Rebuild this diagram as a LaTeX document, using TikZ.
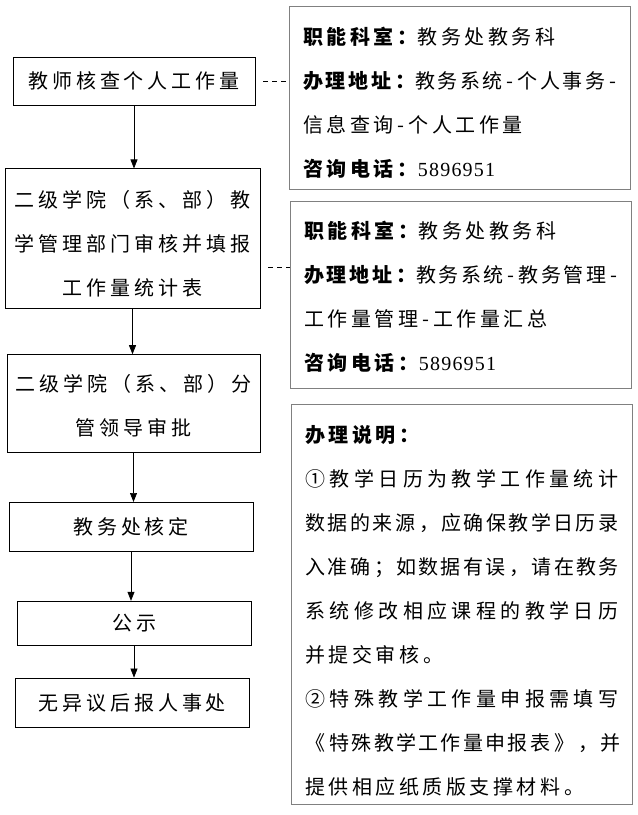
\documentclass[tikz,border=0pt]{standalone}
\usepackage{fontspec}
\newfontfamily\cjk[LetterSpace=20]{Noto Sans CJK SC}
\newfontfamily\numfont[LetterSpace=6]{Liberation Serif}
\usetikzlibrary{arrows.meta,positioning}
\XeTeXlinebreaklocale "zh"
\XeTeXlinebreakskip=3.5pt plus 3pt minus 1.2pt

\begin{document}
\begin{tikzpicture}[x=1pt,y=-1pt,
  font=\cjk\fontsize{20}{44}\selectfont,
  stepbox/.style={draw,line width=0.8pt,align=center,inner sep=0pt},
  infobox/.style={draw=black!50,line width=0.8pt,anchor=north west,inner xsep=14pt,inner ysep=0pt,text width=313pt,align=justify},
  arr/.style={-{Triangle[length=9pt,width=7pt]},line width=0.7pt},
  link/.style={dash pattern=on 5pt off 4pt,line width=0.7pt,shorten <=8pt}]
\useasboundingbox (0,0) rectangle (638,815);
% flow on the left
\node[stepbox,minimum width=242pt,minimum height=48pt](check) at (134,81){教师核查个人工作量};
\node[stepbox,minimum width=255pt,minimum height=140pt,below=63pt of check,xshift=-1.5pt](college){\rule{0pt}{26pt}二级学院（系、部）教\\学管理部门审核并填报\\工作量统计表};
\node[stepbox,minimum width=253pt,minimum height=98pt,below=45pt of college,xshift=1pt](leader){\rule{0pt}{22pt}二级学院（系、部）分\\管领导审批};
\node[stepbox,minimum width=244pt,minimum height=49pt,below=49pt of leader,xshift=-2.5pt](office){教务处核定};
\node[stepbox,minimum width=234pt,minimum height=44pt,below=49pt of office,xshift=3pt](notice){公示};
\node[stepbox,minimum width=234pt,minimum height=49pt,below=32pt of notice,xshift=-2pt](hr){无异议后报人事处};
% notes on the right
\node[infobox,minimum height=183pt](infoA) at (289,6){\rule{0pt}{28pt}{\bfseries 职能科室：}教务处教务科\\{\bfseries 办理地址：}教务系统-个人事务-\linebreak 信息查询-个人工作量\\{\bfseries 咨询电话：}{\numfont 5896951}};
\node[infobox,minimum height=187pt](infoB) at (290,201){\rule{0pt}{21pt}{\bfseries 职能科室：}教务处教务科\\{\bfseries 办理地址：}教务系统-教务管理-\linebreak 工作量管理-工作量汇总\\{\bfseries 咨询电话：}{\numfont 5896951}};
\node[infobox,minimum height=400pt](infoC) at (291,404){\rule{0pt}{30pt}{\bfseries 办理说明：}\\①教学日历为教学工作量统计\linebreak 数据的来源，应确保教学日历录\linebreak 入准确；如数据有误，请在教务\linebreak 系统修改相应课程的教学日历\linebreak 并提交审核。\\②特殊教学工作量申报需填写\linebreak 《特殊教学工作量申报表》，并\linebreak 提供相应纸质版支撑材料。};
\coordinate (tapB) at ([yshift=-29pt]college.east);
\draw[arr](check.south)--(check.south |- college.north);
\draw[arr](college.south)--(college.south |- leader.north);
\draw[arr](leader.south)--(leader.south |- office.north);
\draw[arr](office.south)--(office.south |- notice.north);
\draw[arr](notice.south)--(notice.south |- hr.north);
\draw[link](check.east)--(check.east -| infoA.west);
\draw[link](tapB)--(tapB -| infoB.west);
\end{tikzpicture}
\end{document}
